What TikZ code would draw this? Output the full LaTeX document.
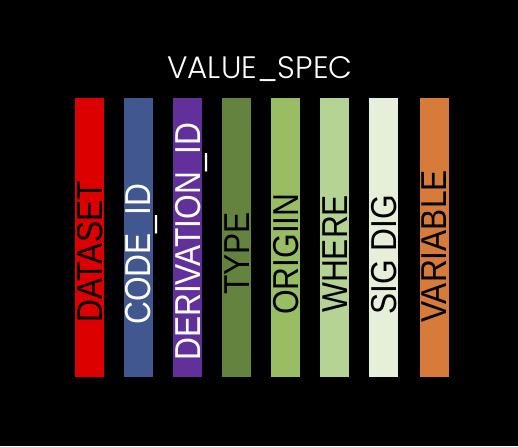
\documentclass[tikz,border=0pt]{standalone}
\usepackage{graphicx}
\usepackage{fontspec}
\setmainfont{Liberation Sans}
\newfontfamily\titlefont{Poppins Light}
\usetikzlibrary{positioning}

\definecolor{datasetred}{HTML}{DD0000}
\definecolor{codeblue}{HTML}{41578F}
\definecolor{derivpurple}{HTML}{61309A}
\definecolor{typegreen}{HTML}{64833F}
\definecolor{origingreen}{HTML}{98BD62}
\definecolor{wheregreen}{HTML}{B5D395}
\definecolor{sigpale}{HTML}{E6EFD9}
\definecolor{varorange}{HTML}{D77B3A}

\begin{document}
\begin{tikzpicture}[x=1pt,y=1pt,
   bar/.style={draw=none, inner sep=0pt, minimum width=29pt, minimum height=279pt, anchor=south},
   barlabel/.style={rotate=90, anchor=west, inner sep=0pt, text height=25.8pt, text depth=0pt,
      font=\fontsize{36}{36}\selectfont}]
\fill[black] (0,0) rectangle (518,446);
\useasboundingbox (0,0) rectangle (518,446);
\node[font=\titlefont\fontsize{31}{31}\selectfont, text=white, anchor=base] (title) at (260,367) {VALUE\_SPEC};
\foreach \name/\x/\col/\tcol/\low/\txt in {
   dataset/89.5/datasetred/black/123/DATASET,
   codeid/138/codeblue/white/121/CODE\_ID,
   derivid/187.5/derivpurple/white/85/DERIVATION\_ID,
   type/236.5/typegreen/black/151/TYPE,
   origin/285.5/origingreen/black/131/ORIGIIN,
   where/334.5/wheregreen/black/133/WHERE,
   sigdig/383.5/sigpale/black/131/SIG DIG,
   variable/434/varorange/black/123/VARIABLE}
{
   \node[bar, fill=\col] (\name) at (\x,69) {};
   \node[barlabel, text=\tcol] (\name-text) at (\x,\low) {\scalebox{0.88}[1]{\txt}};
}
\end{tikzpicture}
\end{document}
